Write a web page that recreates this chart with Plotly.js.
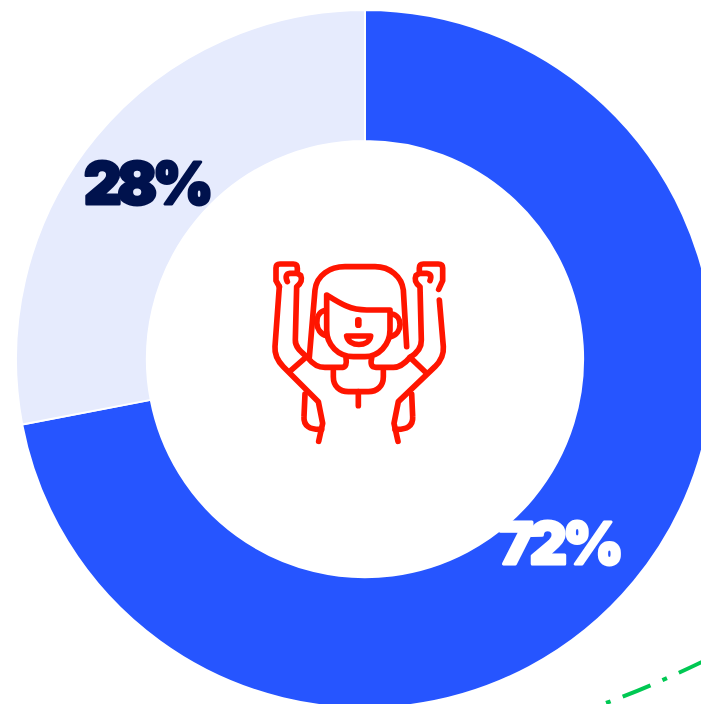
<!DOCTYPE html>
<html><head><meta charset="utf-8">
<script src="https://cdn.plot.ly/plotly-3.0.1.min.js"></script>
<style>
html,body{margin:0;padding:0;width:701px;height:704px;overflow:hidden;background:#fff}
#c{width:730px;height:718px}
.annotation-text{paint-order:stroke fill;stroke-linejoin:round}
</style></head><body><div id="c"></div>
<script>
const categories = ['Yes', 'No'];
const values = [72, 28];
const sliceColors = ['#2655ff', '#e6ebfd'];
const labelColors = ['#ffffff', '#00124d'];
const labelPixels = [[559, 543], [146, 183]];

const W = 730, H = 718;
const fx = x => x / W, fy = y => 1 - y / H;

const stroke = '#ff1500';
const iconPaths = [
  'M178,352 L195,150 C200,105 240,80 285,80 L375,80 C420,80 455,110 460,150 L470,320',
  'M230,165 C270,190 300,210 350,210 L420,210 L420,270 C420,315 385,350 345,350 L310,350 C265,350 230,315 230,270 Z',
  'M222,212 C192,222 192,278 230,287',
  'M425,222 C458,226 460,280 422,290',
  'M290,288 L362,288 C358,322 296,322 290,288 Z',
  'M88,140 L75,320 C73,345 85,365 100,380 L205,485 L218,550 L206,604',
  'M88,140 L78,122 L78,84 Q78,72 90,72 L130,72 Q142,72 142,84 L142,100 L152,106 Q160,125 140,140 L136,300 C135,325 160,340 175,355 C190,375 205,382 225,382 L278,382 Q292,380 288,355',
  'M112,125 Q102,102 120,100 L142,100',
  'M122,392 L170,350',
  'M165,462 L162,530 C160,558 180,570 215,568',
  'M250,392 L250,410 C250,440 270,455 295,455 L355,455 C380,455 400,440 400,410 L400,392',
  'M325,455 L325,497',
  'M365,355 Q358,382 378,382 L430,382 C450,382 465,370 480,352 C500,340 515,325 514,300 L510,140 Q490,125 498,106 L508,100 L508,84 Q508,72 520,72 L565,72 Q578,72 578,84 L578,122 L566,148',
  'M540,122 Q548,102 530,100 L508,100',
  'M568,180 L580,320 C582,345 570,365 555,380 L445,485 L432,550 L444,604',
  'M480,352 L526,396',
  'M485,462 L488,530 C490,558 470,570 435,568'
];
const iconSvg = '<svg xmlns="http://www.w3.org/2000/svg" viewBox="0 0 660 660" width="660" height="660">' +
  '<g fill="none" stroke="' + stroke + '" stroke-width="17" stroke-linecap="round" stroke-linejoin="round">' +
  iconPaths.map(d => '<path d="' + d + '"/>').join('') +
  '<path d="M325,241 L325,254" stroke-width="20"/></g></svg>';

const trace = {
  type: 'pie',
  labels: categories,
  values: values,
  hole: 0.625,
  sort: false,
  direction: 'clockwise',
  rotation: 0,
  textinfo: 'none',
  hoverinfo: 'label+percent',
  marker: {colors: sliceColors, line: {color: '#ffffff', width: 2}},
  domain: {x: [fx(16), fx(714)], y: [fy(708), fy(10)]},
  showlegend: false
};

const layout = {
  width: W, height: H,
  margin: {l: 0, r: 0, t: 0, b: 0},
  paper_bgcolor: '#ffffff',
  showlegend: false,
  annotations: values.map((v, i) => ({
    text: v + '%',
    xref: 'paper', yref: 'paper',
    x: fx(labelPixels[i][0]), y: fy(labelPixels[i][1]),
    xanchor: 'center', yanchor: 'middle',
    showarrow: false,
    font: {family: 'Inter, Roboto, sans-serif', size: 58, weight: 900, color: labelColors[i]}
  })),
  images: [{
    source: 'data:image/svg+xml;charset=utf-8,' + encodeURIComponent(iconSvg),
    xref: 'paper', yref: 'paper',
    x: fx(250), y: fy(240), sizex: 220 / W, sizey: 220 / H,
    xanchor: 'left', yanchor: 'top', sizing: 'stretch', layer: 'above'
  }],
  shapes: [{
    type: 'path', xref: 'paper', yref: 'paper',
    path: 'M' + fx(606) + ',' + fy(703) + ' Q' + fx(655) + ',' + fy(685) + ' ' + fx(712) + ',' + fy(657),
    line: {color: '#00c853', width: 4, dash: '5px,13px,30px,13px'}
  }]
};

Plotly.newPlot('c', [trace], layout, {displayModeBar: false, staticPlot: true}).then(() => {
  document.querySelectorAll('.annotation-text').forEach((t, i) => {
    t.style.stroke = labelColors[i];
    t.style.strokeWidth = '3px';
    t.style.letterSpacing = '-4px';
  });
});
</script></body></html>
